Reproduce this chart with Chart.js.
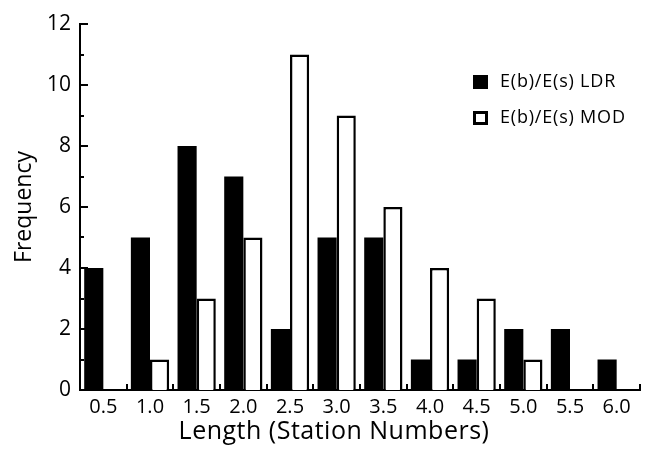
<!DOCTYPE html>
<html>
<head>
<meta charset="utf-8">
<script src="https://cdn.jsdelivr.net/npm/chart.js@4/dist/chart.umd.min.js"></script>
<style>
html,body{margin:0;padding:0;background:#fff;}
#wrap{width:654px;height:455px;position:relative;}
</style>
</head>
<body>
<div id="wrap"><canvas id="c"></canvas></div>
<script>
const categories = ["0.5","1.0","1.5","2.0","2.5","3.0","3.5","4.0","4.5","5.0","5.5","6.0"];
const ldrValues = [4,5,8,7,2,5,5,1,1,2,2,1];
const modValues = [0,1,3,5,11,9,6,4,3,1,0,0];
const seriesNames = ["E(b)/E(s) LDR","E(b)/E(s) MOD"];
const yTicks = [0,2,4,6,8,10,12];
const xTitle = "Length (Station Numbers)";
const yTitle = "Frequency";

const FONT = "'Open Sans'";

const axisDecor = {
  id: 'axisDecor',
  afterDraw(chart) {
    const ctx = chart.ctx;
    const xs = chart.scales.x, ys = chart.scales.y;
    ctx.save();
    ctx.strokeStyle = '#000';
    ctx.lineWidth = 2;
    for (let v = 0; v <= 12; v++) {
      const y = Math.round(ys.getPixelForValue(v));
      const len = (v % 2 === 0) ? 8 : 4;
      ctx.beginPath();
      ctx.moveTo(xs.left, y);
      ctx.lineTo(xs.left + len, y);
      ctx.stroke();
    }
    for (let i = 1; i <= categories.length; i++) {
      const x = Math.round(xs.getPixelForValue(i - 0.5));
      ctx.beginPath();
      ctx.moveTo(x, ys.bottom);
      ctx.lineTo(x, ys.bottom - 6);
      ctx.stroke();
    }
    // x title
    ctx.fillStyle = '#000';
    ctx.font = '25px ' + FONT;
    ctx.letterSpacing = '0.5px';
    ctx.textAlign = 'center';
    ctx.textBaseline = 'alphabetic';
    ctx.fillText(xTitle, 334, 439);
    // legend
    const items = chart.data.datasets;
    const lx = 473, ly = [75, 111];
    ctx.font = '18px ' + FONT;
    ctx.letterSpacing = '0.8px';
    ctx.textAlign = 'left';
    ctx.textBaseline = 'middle';
    items.forEach((ds, k) => {
      if (k === 0) {
        ctx.fillStyle = '#000';
        ctx.fillRect(lx, ly[k], 15, 14);
      } else {
        ctx.lineWidth = 3;
        ctx.strokeRect(lx + 1.5, ly[k] + 1.5, 12, 11);
      }
      ctx.fillStyle = '#000';
      ctx.fillText(ds.label, lx + 27, ly[k] + 7);
    });
    ctx.restore();
  }
};

new Chart(document.getElementById('c'), {
  type: 'bar',
  data: {
    labels: categories,
    datasets: [
      { label: seriesNames[0], data: ldrValues, backgroundColor: '#000', borderColor: '#000', borderWidth: 0 },
      { label: seriesNames[1], data: modValues, backgroundColor: '#fff', borderColor: '#000', borderWidth: 2.5, borderSkipped: 'bottom' }
    ]
  },
  options: {
    responsive: true,
    maintainAspectRatio: false,
    animation: false,
    layout: { padding: { top: 24, right: 14, bottom: 0, left: 0 } },
    plugins: { legend: { display: false }, tooltip: { enabled: false } },
    datasets: { bar: { categoryPercentage: 0.82, barPercentage: 1.0 } },
    scales: {
      x: {
        grid: { display: false, drawTicks: false },
        border: { display: true, color: '#000', width: 2 },
        ticks: { color: '#000', font: { family: FONT, size: 20 }, padding: 5, maxRotation: 0 },
        afterFit(s) { s.height = 65; }
      },
      y: {
        min: 0, max: 12,
        afterBuildTicks(s) { s.ticks = yTicks.map(v => ({ value: v })); },
        grid: { display: false, drawTicks: false },
        border: { display: true, color: '#000', width: 2 },
        ticks: { color: '#000', font: { family: FONT, size: 21 }, padding: 9 },
        title: { display: true, text: yTitle, color: '#000', font: { family: FONT, size: 23 }, padding: { top: 11, bottom: 0 } },
        afterFit(s) { s.width = 80; }
      }
    }
  },
  plugins: [axisDecor]
});
</script>
</body>
</html>
